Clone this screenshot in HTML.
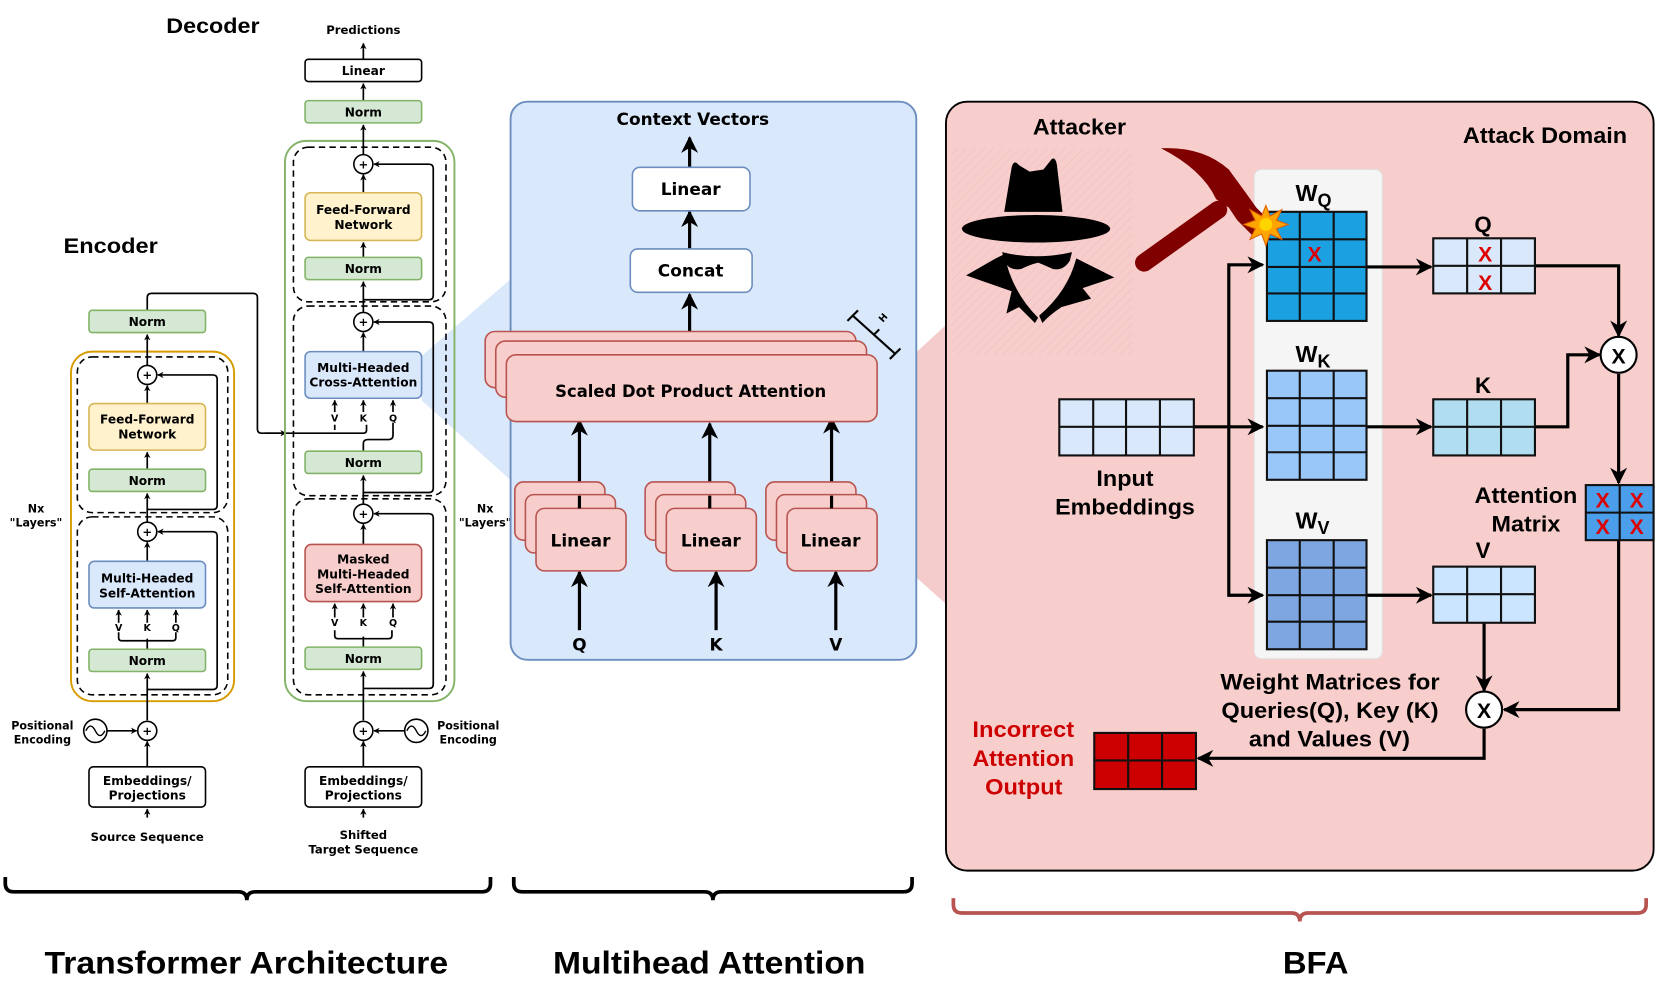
<!DOCTYPE html>
<html><head><meta charset="utf-8"><style>
html,body{margin:0;padding:0;background:#fff;}
svg{display:block;}
.t{font-family:"DejaVu Sans","Liberation Sans",sans-serif;font-weight:bold;}
.n{font-family:"Liberation Sans",sans-serif;font-weight:bold;}
.a{font-family:"Liberation Sans",sans-serif;font-weight:bold;}
</style></head><body>
<svg width="1661" height="985" viewBox="0 0 1568 930" preserveAspectRatio="none" xmlns="http://www.w3.org/2000/svg">
<defs>
<marker id="sa" viewBox="0 0 10 10" refX="9" refY="5" markerWidth="6" markerHeight="6" orient="auto-start-reverse" markerUnits="userSpaceOnUse"><path d="M0,0 L10,5 L0,10 L3,5 Z" fill="#000"/></marker>
<marker id="ba" viewBox="0 0 10 10" refX="9" refY="5" markerWidth="16" markerHeight="16" orient="auto" markerUnits="userSpaceOnUse"><path d="M0,0 L10,5 L0,10 L3,5 Z" fill="#000"/></marker>
<pattern id="hatch" width="6" height="6" patternUnits="userSpaceOnUse" patternTransform="rotate(45)"><line x1="0" y1="0" x2="0" y2="6" stroke="#eab3b3" stroke-width="1"/></pattern>
</defs>

<polygon points="398,336 484,262 484,455 398,378" fill="#dae8fc"/>
<polygon points="857,340 895,305 895,572 857,538" fill="#f4cccc"/>

<!-- ============ TRANSFORMER ============ -->
<text x="157" y="31" class="a" font-size="20" textLength="88" lengthAdjust="spacingAndGlyphs">Decoder</text>
<text x="60" y="239" class="a" font-size="20" textLength="89" lengthAdjust="spacingAndGlyphs">Encoder</text>

<rect x="67" y="332" width="154" height="330" rx="20" fill="none" stroke="#d79b00" stroke-width="1.8"/>
<rect x="73" y="337" width="142" height="147" rx="14" fill="none" stroke="#000" stroke-width="1.5" stroke-dasharray="6,4"/>
<rect x="73" y="488" width="142" height="168" rx="14" fill="none" stroke="#000" stroke-width="1.5" stroke-dasharray="6,4"/>

<g stroke="#000" stroke-width="1.6" fill="none">
<line x1="139" y1="772" x2="139" y2="764" marker-end="url(#sa)"/>
<line x1="139" y1="724" x2="139" y2="700" marker-end="url(#sa)"/>
<line x1="101" y1="690" x2="129" y2="690" marker-end="url(#sa)"/>
<line x1="139" y1="680" x2="139" y2="636" marker-end="url(#sa)"/>
<line x1="139" y1="613" x2="139" y2="603"/>
<path d="M112,597 v5 q0,3 3,3 h48 q3,0 3,-3 v-5"/>
<line x1="112" y1="588" x2="112" y2="576" marker-end="url(#sa)"/>
<line x1="139" y1="588" x2="139" y2="576" marker-end="url(#sa)"/>
<line x1="166" y1="588" x2="166" y2="576" marker-end="url(#sa)"/>
<line x1="139" y1="530" x2="139" y2="512" marker-end="url(#sa)"/>
<path d="M139,651 H201 q4,0 4,-4 V506 q0,-4 -4,-4 H149" marker-end="url(#sa)"/>
<line x1="139" y1="493" x2="139" y2="466" marker-end="url(#sa)"/>
<line x1="139" y1="443" x2="139" y2="427" marker-end="url(#sa)"/>
<line x1="139" y1="381" x2="139" y2="364" marker-end="url(#sa)"/>
<path d="M139,481 H201 q4,0 4,-4 V358 q0,-4 -4,-4 H149" marker-end="url(#sa)"/>
<line x1="139" y1="345" x2="139" y2="316" marker-end="url(#sa)"/>
<path d="M139,293 V281 q0,-4 4,-4 H239 q4,0 4,4 V405 q0,4 4,4 H343 q3,0 3,-3 v-5"/>
<line x1="250" y1="409" x2="270" y2="409" marker-end="url(#sa)"/>
<path d="M316,406 v-5"/>
<line x1="316" y1="389" x2="316" y2="378" marker-end="url(#sa)"/>
<line x1="343" y1="389" x2="343" y2="378" marker-end="url(#sa)"/>
<line x1="371" y1="389" x2="371" y2="378" marker-end="url(#sa)"/>
<path d="M343,426 v-7 q0,-4 4,-4 h20 q4,0 4,-4 v-12"/>
</g>

<rect x="84" y="293" width="110" height="21" rx="3" fill="#d5e8d4" stroke="#82b366" stroke-width="1.5"/>
<text x="139" y="308" class="t" font-size="11.5" text-anchor="middle">Norm</text>
<circle cx="139" cy="354" r="9" fill="#fff" stroke="#000" stroke-width="1.5"/><text x="139" y="358" class="t" font-size="11" text-anchor="middle">+</text>
<rect x="84" y="381" width="110" height="44" rx="5" fill="#fff2cc" stroke="#d6b656" stroke-width="1.5"/>
<text x="139" y="400" class="t" font-size="11.5" text-anchor="middle">Feed-Forward</text>
<text x="139" y="414" class="t" font-size="11.5" text-anchor="middle">Network</text>
<rect x="84" y="443" width="110" height="21" rx="3" fill="#d5e8d4" stroke="#82b366" stroke-width="1.5"/>
<text x="139" y="458" class="t" font-size="11.5" text-anchor="middle">Norm</text>
<circle cx="139" cy="502" r="9" fill="#fff" stroke="#000" stroke-width="1.5"/><text x="139" y="506" class="t" font-size="11" text-anchor="middle">+</text>
<rect x="84" y="530" width="110" height="44" rx="5" fill="#dae8fc" stroke="#6c8ebf" stroke-width="1.5"/>
<text x="139" y="550" class="t" font-size="11.5" text-anchor="middle">Multi-Headed</text>
<text x="139" y="564" class="t" font-size="11.5" text-anchor="middle">Self-Attention</text>
<text x="112" y="596" class="t" font-size="9" text-anchor="middle">V</text>
<text x="139" y="596" class="t" font-size="9" text-anchor="middle">K</text>
<text x="166" y="596" class="t" font-size="9" text-anchor="middle">Q</text>
<rect x="84" y="613" width="110" height="21" rx="3" fill="#d5e8d4" stroke="#82b366" stroke-width="1.5"/>
<text x="139" y="628" class="t" font-size="11.5" text-anchor="middle">Norm</text>
<circle cx="139" cy="690" r="9" fill="#fff" stroke="#000" stroke-width="1.5"/><text x="139" y="694" class="t" font-size="11" text-anchor="middle">+</text>
<circle cx="90" cy="690" r="11" fill="#fff" stroke="#000" stroke-width="1.5"/>
<path d="M81,690 q4.5,-9 9,0 t9,0" fill="none" stroke="#000" stroke-width="1.3"/>
<text x="40" y="689" class="t" font-size="10.5" text-anchor="middle">Positional</text>
<text x="40" y="702" class="t" font-size="10.5" text-anchor="middle">Encoding</text>
<rect x="84" y="724" width="110" height="38" rx="4" fill="#fff" stroke="#000" stroke-width="1.5"/>
<text x="139" y="741" class="t" font-size="11.5" text-anchor="middle">Embeddings/</text>
<text x="139" y="755" class="t" font-size="11.5" text-anchor="middle">Projections</text>
<text x="139" y="794" class="t" font-size="11" text-anchor="middle">Source Sequence</text>
<text x="34" y="484" class="t" font-size="10.5" text-anchor="middle">Nx</text>
<text x="34" y="497" class="t" font-size="10.5" text-anchor="middle">"Layers"</text>
<text x="458" y="484" class="t" font-size="10.5" text-anchor="middle">Nx</text>
<text x="458" y="497" class="t" font-size="10.5" text-anchor="middle">"Layers"</text>

<rect x="269" y="133" width="160" height="529" rx="20" fill="none" stroke="#82b366" stroke-width="1.8"/>
<rect x="277" y="139" width="144" height="146" rx="14" fill="none" stroke="#000" stroke-width="1.5" stroke-dasharray="6,4"/>
<rect x="277" y="289" width="144" height="179" rx="14" fill="none" stroke="#000" stroke-width="1.5" stroke-dasharray="6,4"/>
<rect x="277" y="471" width="144" height="185" rx="14" fill="none" stroke="#000" stroke-width="1.5" stroke-dasharray="6,4"/>

<g stroke="#000" stroke-width="1.6" fill="none">
<line x1="343" y1="772" x2="343" y2="764" marker-end="url(#sa)"/>
<line x1="343" y1="724" x2="343" y2="700" marker-end="url(#sa)"/>
<line x1="382" y1="690" x2="353" y2="690" marker-end="url(#sa)"/>
<line x1="343" y1="680" x2="343" y2="634" marker-end="url(#sa)"/>
<line x1="343" y1="611" x2="343" y2="601"/>
<path d="M316,595 v5 q0,3 3,3 h48 q3,0 3,-3 v-5"/>
<line x1="316" y1="583" x2="316" y2="570" marker-end="url(#sa)"/>
<line x1="343" y1="583" x2="343" y2="570" marker-end="url(#sa)"/>
<line x1="371" y1="583" x2="371" y2="570" marker-end="url(#sa)"/>
<line x1="343" y1="514" x2="343" y2="495" marker-end="url(#sa)"/>
<path d="M343,650 H405 q4,0 4,-4 V489 q0,-4 -4,-4 H353" marker-end="url(#sa)"/>
<line x1="343" y1="476" x2="343" y2="449" marker-end="url(#sa)"/>
<path d="M343,465 H405 q4,0 4,-4 V308 q0,-4 -4,-4 H353" marker-end="url(#sa)"/>
<line x1="343" y1="332" x2="343" y2="314" marker-end="url(#sa)"/>
<line x1="343" y1="295" x2="343" y2="266" marker-end="url(#sa)"/>
<line x1="343" y1="243" x2="343" y2="229" marker-end="url(#sa)"/>
<line x1="343" y1="182" x2="343" y2="165" marker-end="url(#sa)"/>
<path d="M343,283 H405 q4,0 4,-4 V159 q0,-4 -4,-4 H353" marker-end="url(#sa)"/>
<line x1="343" y1="146" x2="343" y2="118" marker-end="url(#sa)"/>
<line x1="343" y1="95" x2="343" y2="79" marker-end="url(#sa)"/>
<line x1="343" y1="56" x2="343" y2="41" marker-end="url(#sa)"/>
</g>

<text x="343" y="32" class="t" font-size="11" text-anchor="middle">Predictions</text>
<rect x="288" y="56" width="110" height="21" rx="3" fill="#fff" stroke="#000" stroke-width="1.5"/>
<text x="343" y="71" class="t" font-size="11.5" text-anchor="middle">Linear</text>
<rect x="288" y="95" width="110" height="21" rx="3" fill="#d5e8d4" stroke="#82b366" stroke-width="1.5"/>
<text x="343" y="110" class="t" font-size="11.5" text-anchor="middle">Norm</text>
<circle cx="343" cy="155" r="9" fill="#fff" stroke="#000" stroke-width="1.5"/><text x="343" y="159" class="t" font-size="11" text-anchor="middle">+</text>
<rect x="288" y="182" width="110" height="45" rx="5" fill="#fff2cc" stroke="#d6b656" stroke-width="1.5"/>
<text x="343" y="202" class="t" font-size="11.5" text-anchor="middle">Feed-Forward</text>
<text x="343" y="216" class="t" font-size="11.5" text-anchor="middle">Network</text>
<rect x="288" y="243" width="110" height="21" rx="3" fill="#d5e8d4" stroke="#82b366" stroke-width="1.5"/>
<text x="343" y="258" class="t" font-size="11.5" text-anchor="middle">Norm</text>
<circle cx="343" cy="304" r="9" fill="#fff" stroke="#000" stroke-width="1.5"/><text x="343" y="308" class="t" font-size="11" text-anchor="middle">+</text>
<rect x="288" y="332" width="110" height="44" rx="5" fill="#dae8fc" stroke="#6c8ebf" stroke-width="1.5"/>
<text x="343" y="351" class="t" font-size="11.5" text-anchor="middle">Multi-Headed</text>
<text x="343" y="365" class="t" font-size="11.5" text-anchor="middle">Cross-Attention</text>
<text x="316" y="398" class="t" font-size="9" text-anchor="middle">V</text>
<text x="343" y="398" class="t" font-size="9" text-anchor="middle">K</text>
<text x="371" y="398" class="t" font-size="9" text-anchor="middle">Q</text>
<rect x="288" y="426" width="110" height="21" rx="3" fill="#d5e8d4" stroke="#82b366" stroke-width="1.5"/>
<text x="343" y="441" class="t" font-size="11.5" text-anchor="middle">Norm</text>
<circle cx="343" cy="485" r="9" fill="#fff" stroke="#000" stroke-width="1.5"/><text x="343" y="489" class="t" font-size="11" text-anchor="middle">+</text>
<rect x="288" y="514" width="110" height="54" rx="6" fill="#f8cecc" stroke="#b85450" stroke-width="1.5"/>
<text x="343" y="532" class="t" font-size="11.5" text-anchor="middle">Masked</text>
<text x="343" y="546" class="t" font-size="11.5" text-anchor="middle">Multi-Headed</text>
<text x="343" y="560" class="t" font-size="11.5" text-anchor="middle">Self-Attention</text>
<text x="316" y="591" class="t" font-size="9" text-anchor="middle">V</text>
<text x="343" y="591" class="t" font-size="9" text-anchor="middle">K</text>
<text x="371" y="591" class="t" font-size="9" text-anchor="middle">Q</text>
<rect x="288" y="611" width="110" height="21" rx="3" fill="#d5e8d4" stroke="#82b366" stroke-width="1.5"/>
<text x="343" y="626" class="t" font-size="11.5" text-anchor="middle">Norm</text>
<circle cx="343" cy="690" r="9" fill="#fff" stroke="#000" stroke-width="1.5"/><text x="343" y="694" class="t" font-size="11" text-anchor="middle">+</text>
<circle cx="393" cy="690" r="11" fill="#fff" stroke="#000" stroke-width="1.5"/>
<path d="M384,690 q4.5,-9 9,0 t9,0" fill="none" stroke="#000" stroke-width="1.3"/>
<text x="442" y="689" class="t" font-size="10.5" text-anchor="middle">Positional</text>
<text x="442" y="702" class="t" font-size="10.5" text-anchor="middle">Encoding</text>
<rect x="288" y="724" width="110" height="38" rx="4" fill="#fff" stroke="#000" stroke-width="1.5"/>
<text x="343" y="741" class="t" font-size="11.5" text-anchor="middle">Embeddings/</text>
<text x="343" y="755" class="t" font-size="11.5" text-anchor="middle">Projections</text>
<text x="343" y="792" class="t" font-size="11" text-anchor="middle">Shifted</text>
<text x="343" y="806" class="t" font-size="11" text-anchor="middle">Target Sequence</text>

<!-- ============ MULTIHEAD ============ -->
<rect x="482" y="96" width="383" height="527" rx="16" fill="#dae8fc" stroke="#6c8ebf" stroke-width="1.8"/>
<text x="654" y="118" class="t" font-size="16" text-anchor="middle">Context Vectors</text>
<g stroke="#000" stroke-width="3" fill="none">
<line x1="651" y1="158" x2="651" y2="130" marker-end="url(#ba)"/>
<line x1="651" y1="235" x2="651" y2="200" marker-end="url(#ba)"/>
<line x1="651" y1="313" x2="651" y2="278" marker-end="url(#ba)"/>
<line x1="547" y1="468" x2="547" y2="397" marker-end="url(#ba)"/>
<line x1="670" y1="468" x2="670" y2="400" marker-end="url(#ba)"/>
<line x1="785" y1="468" x2="785" y2="395" marker-end="url(#ba)"/>
<line x1="547" y1="595" x2="547" y2="540" marker-end="url(#ba)"/>
<line x1="676" y1="595" x2="676" y2="540" marker-end="url(#ba)"/>
<line x1="789" y1="595" x2="789" y2="540" marker-end="url(#ba)"/>
</g>
<rect x="597" y="158" width="111" height="41" rx="7" fill="#fff" stroke="#6c8ebf" stroke-width="1.5"/>
<text x="652" y="184" class="t" font-size="16" text-anchor="middle">Linear</text>
<rect x="595" y="235" width="115" height="41" rx="7" fill="#fff" stroke="#6c8ebf" stroke-width="1.5"/>
<text x="652" y="261" class="t" font-size="16" text-anchor="middle">Concat</text>
<rect x="458" y="313" width="350" height="53" rx="9" fill="#f8cecc" stroke="#b85450" stroke-width="1.5"/>
<rect x="468" y="322" width="350" height="53" rx="9" fill="#f8cecc" stroke="#b85450" stroke-width="1.5"/>
<rect x="478" y="335" width="350" height="63" rx="9" fill="#f8cecc" stroke="#b85450" stroke-width="1.5"/>
<text x="652" y="375" class="t" font-size="15.5" text-anchor="middle">Scaled Dot Product Attention</text>
<g stroke="#000" stroke-width="2" fill="none">
<line x1="805" y1="298" x2="845" y2="334"/>
<line x1="800" y1="303" x2="810" y2="293"/>
<line x1="840" y1="339" x2="850" y2="329"/>
<line x1="825" y1="316" x2="830" y2="311"/>
</g>
<text x="836" y="302" class="t" font-size="9" text-anchor="middle" transform="rotate(-48 836 302)">H</text>

<g fill="#f8cecc" stroke="#b85450" stroke-width="1.5">
<rect x="486" y="455" width="85" height="55" rx="8"/><rect x="496" y="467" width="85" height="55" rx="8"/><rect x="506" y="480" width="85" height="59" rx="8"/>
<rect x="609" y="455" width="85" height="55" rx="8"/><rect x="619" y="467" width="85" height="55" rx="8"/><rect x="629" y="480" width="85" height="59" rx="8"/>
<rect x="723" y="455" width="85" height="55" rx="8"/><rect x="733" y="467" width="85" height="55" rx="8"/><rect x="743" y="480" width="85" height="59" rx="8"/>
</g>
<g stroke="#000" stroke-width="3"><line x1="547" y1="480" x2="547" y2="468"/><line x1="670" y1="480" x2="670" y2="468"/><line x1="785" y1="480" x2="785" y2="468"/></g>
<text x="548" y="516" class="t" font-size="16" text-anchor="middle">Linear</text>
<text x="671" y="516" class="t" font-size="16" text-anchor="middle">Linear</text>
<text x="784" y="516" class="t" font-size="16" text-anchor="middle">Linear</text>
<text x="547" y="614" class="t" font-size="16" text-anchor="middle">Q</text>
<text x="676" y="614" class="t" font-size="16" text-anchor="middle">K</text>
<text x="789" y="614" class="t" font-size="16" text-anchor="middle">V</text>

<!-- ============ BFA ============ -->
<rect x="893" y="96" width="668" height="726" rx="20" fill="#f8cecc" stroke="#000" stroke-width="1.8"/>
<rect x="897" y="140" width="172" height="195" fill="url(#hatch)" opacity="0.7"/>
<text x="975" y="127" class="n" font-size="21" textLength="88" lengthAdjust="spacingAndGlyphs">Attacker</text>
<text x="1381" y="135" class="n" font-size="21" textLength="155" lengthAdjust="spacingAndGlyphs">Attack Domain</text>

<!-- spy -->
<g fill="#000">
<path d="M948,200 L955,158 Q957,150 962,156 L972,162 L985,160 L993,150 Q997,148 998,158 L1003,200 Z"/>
<ellipse cx="978" cy="216" rx="70" ry="13"/>
<path d="M946,238 Q978,246 1012,238 L1010,246 Q1004,256 994,254 Q985,250 980,248 Q972,250 964,254 Q952,256 948,246 Z"/>
<path d="M940,244 L948,240 Q955,275 980,300 L977,305 L962,290 L950,296 L955,275 L912,260 Z"/>
<path d="M1016,244 L1052,262 L1022,272 L1030,282 L1002,290 Q990,298 984,305 L981,298 Q1008,275 1016,244 Z"/>
</g>

<!-- gray panel -->
<rect x="1184" y="160" width="121" height="462" rx="7" fill="#f5f5f5" stroke="#e0e0e0" stroke-width="1"/>
<text x="1223" y="190" class="n" font-size="22">W<tspan font-size="17" dy="5">Q</tspan></text>
<text x="1223" y="342" class="n" font-size="22">W<tspan font-size="17" dy="5">K</tspan></text>
<text x="1223" y="499" class="n" font-size="22">W<tspan font-size="17" dy="5">V</tspan></text>

<g stroke="#000" stroke-width="3" fill="none">
<line x1="1127" y1="403" x2="1192" y2="403" marker-end="url(#ba)"/>
<path d="M1160,403 V250 H1192" marker-end="url(#ba)"/>
<path d="M1160,403 V562 H1192" marker-end="url(#ba)"/>
<line x1="1290" y1="252" x2="1351" y2="252" marker-end="url(#ba)"/>
<line x1="1290" y1="403" x2="1351" y2="403" marker-end="url(#ba)"/>
<line x1="1290" y1="562" x2="1351" y2="562" marker-end="url(#ba)"/>
<path d="M1449,251 H1528 V317" marker-end="url(#ba)"/>
<path d="M1449,403 H1480 V335 H1510" marker-end="url(#ba)"/>
<line x1="1528" y1="353" x2="1528" y2="456" marker-end="url(#ba)"/>
<path d="M1528,510 V670 H1420" marker-end="url(#ba)"/>
<line x1="1401" y1="588" x2="1401" y2="652" marker-end="url(#ba)"/>
<path d="M1401,688 V716 H1131" marker-end="url(#ba)"/>
</g>

<g stroke="#111" stroke-width="2">
<rect x="1196" y="200" width="94" height="103" fill="#1ba1e2"/>
<path d="M1227,200V303M1259,200V303M1196,226H1290M1196,252H1290M1196,277H1290" fill="none"/>
<rect x="1196" y="350" width="94" height="103" fill="#99c8f8"/>
<path d="M1227,350V453M1259,350V453M1196,376H1290M1196,402H1290M1196,427H1290" fill="none"/>
<rect x="1196" y="510" width="94" height="103" fill="#7ea6e0"/>
<path d="M1227,510V613M1259,510V613M1196,536H1290M1196,562H1290M1196,587H1290" fill="none"/>
<rect x="1000" y="377" width="127" height="53" fill="#dae8fc"/>
<path d="M1032,377V430M1063,377V430M1095,377V430M1000,403H1127" fill="none"/>
<rect x="1353" y="225" width="96" height="52" fill="#dae8fc"/>
<path d="M1385,225V277M1417,225V277M1353,251H1449" fill="none"/>
<rect x="1353" y="377" width="96" height="53" fill="#b1ddf0"/>
<path d="M1385,377V430M1417,377V430M1353,403H1449" fill="none"/>
<rect x="1353" y="535" width="96" height="53" fill="#cce5ff"/>
<path d="M1385,535V588M1417,535V588M1353,561H1449" fill="none"/>
<rect x="1497" y="458" width="64" height="52" fill="#4a9eea"/>
<path d="M1529,458V510M1497,484H1561" fill="none"/>
<rect x="1033" y="692" width="96" height="53" fill="#cc0000"/>
<path d="M1065,692V745M1097,692V745M1033,718H1129" fill="none"/>
</g>

<!-- hammer (in front of panel) -->
<g fill="#800000">
<path d="M1096,140 Q1135,138 1160,160 L1176,182 L1186,196 L1198,208 L1182,222 L1168,208 L1160,196 L1148,188 Q1135,160 1096,140 Z"/>
<line x1="1150" y1="198" x2="1080" y2="248" stroke="#800000" stroke-width="17" stroke-linecap="round"/>
</g>
<polygon points="1195,194 1199,204 1210,198 1205,208 1216,212 1205,216 1210,226 1199,221 1195,232 1191,221 1180,226 1185,216 1174,212 1185,208 1180,198 1191,204" fill="#ffa500" stroke="#e06000" stroke-width="1"/>
<circle cx="1195" cy="212" r="6" fill="#ffd500"/>

<g class="n" font-size="20" fill="#dd0000" text-anchor="middle">
<text x="1241" y="247">X</text>
<text x="1402" y="247">X</text><text x="1402" y="274">X</text>
<text x="1513" y="479">X</text><text x="1545" y="479">X</text>
<text x="1513" y="504">X</text><text x="1545" y="504">X</text>
</g>
<circle cx="1528" cy="335" r="17" fill="#fff" stroke="#000" stroke-width="2"/>
<text x="1528" y="343" class="n" font-size="20" text-anchor="middle">X</text>
<circle cx="1401" cy="670" r="17" fill="#fff" stroke="#000" stroke-width="2"/>
<text x="1401" y="678" class="n" font-size="20" text-anchor="middle">X</text>

<g class="n" font-size="21">
<text x="1400" y="219" text-anchor="middle">Q</text>
<text x="1400" y="371" text-anchor="middle">K</text>
<text x="1400" y="527" text-anchor="middle">V</text>
<text x="1035" y="459" textLength="54" lengthAdjust="spacingAndGlyphs">Input</text>
<text x="996" y="486" textLength="132" lengthAdjust="spacingAndGlyphs">Embeddings</text>
<text x="1392" y="475" textLength="97" lengthAdjust="spacingAndGlyphs">Attention</text>
<text x="1408" y="502" textLength="65" lengthAdjust="spacingAndGlyphs">Matrix</text>
<text x="1152" y="651" textLength="207" lengthAdjust="spacingAndGlyphs">Weight Matrices for</text>
<text x="1153" y="678" textLength="205" lengthAdjust="spacingAndGlyphs">Queries(Q), Key (K)</text>
<text x="1179" y="705" textLength="152" lengthAdjust="spacingAndGlyphs">and Values (V)</text>
<g fill="#cc0000">
<text x="918" y="696" textLength="96" lengthAdjust="spacingAndGlyphs">Incorrect</text>
<text x="918" y="723" textLength="96" lengthAdjust="spacingAndGlyphs">Attention</text>
<text x="930" y="750" textLength="73" lengthAdjust="spacingAndGlyphs">Output</text>
</g>
</g>

<g fill="none" stroke-width="3.5">
<path d="M5,828 v6 q0,8 8,8 H225 q8,0 8,8 q0,-8 8,-8 H455 q8,0 8,-8 v-6" stroke="#000"/>
<path d="M485,828 v6 q0,8 8,8 H665 q8,0 8,8 q0,-8 8,-8 H853 q8,0 8,-8 v-6" stroke="#000"/>
<path d="M900,848 v6 q0,8 8,8 H1219 q8,0 8,8 q0,-8 8,-8 H1546 q8,0 8,-8 v-6" stroke="#b85450"/>
</g>
<text x="42" y="919" class="a" font-size="30" textLength="381" lengthAdjust="spacingAndGlyphs">Transformer Architecture</text>
<text x="522" y="919" class="a" font-size="30" textLength="295" lengthAdjust="spacingAndGlyphs">Multihead Attention</text>
<text x="1211" y="919" class="a" font-size="30" textLength="62" lengthAdjust="spacingAndGlyphs">BFA</text>
</svg>
</body></html>
